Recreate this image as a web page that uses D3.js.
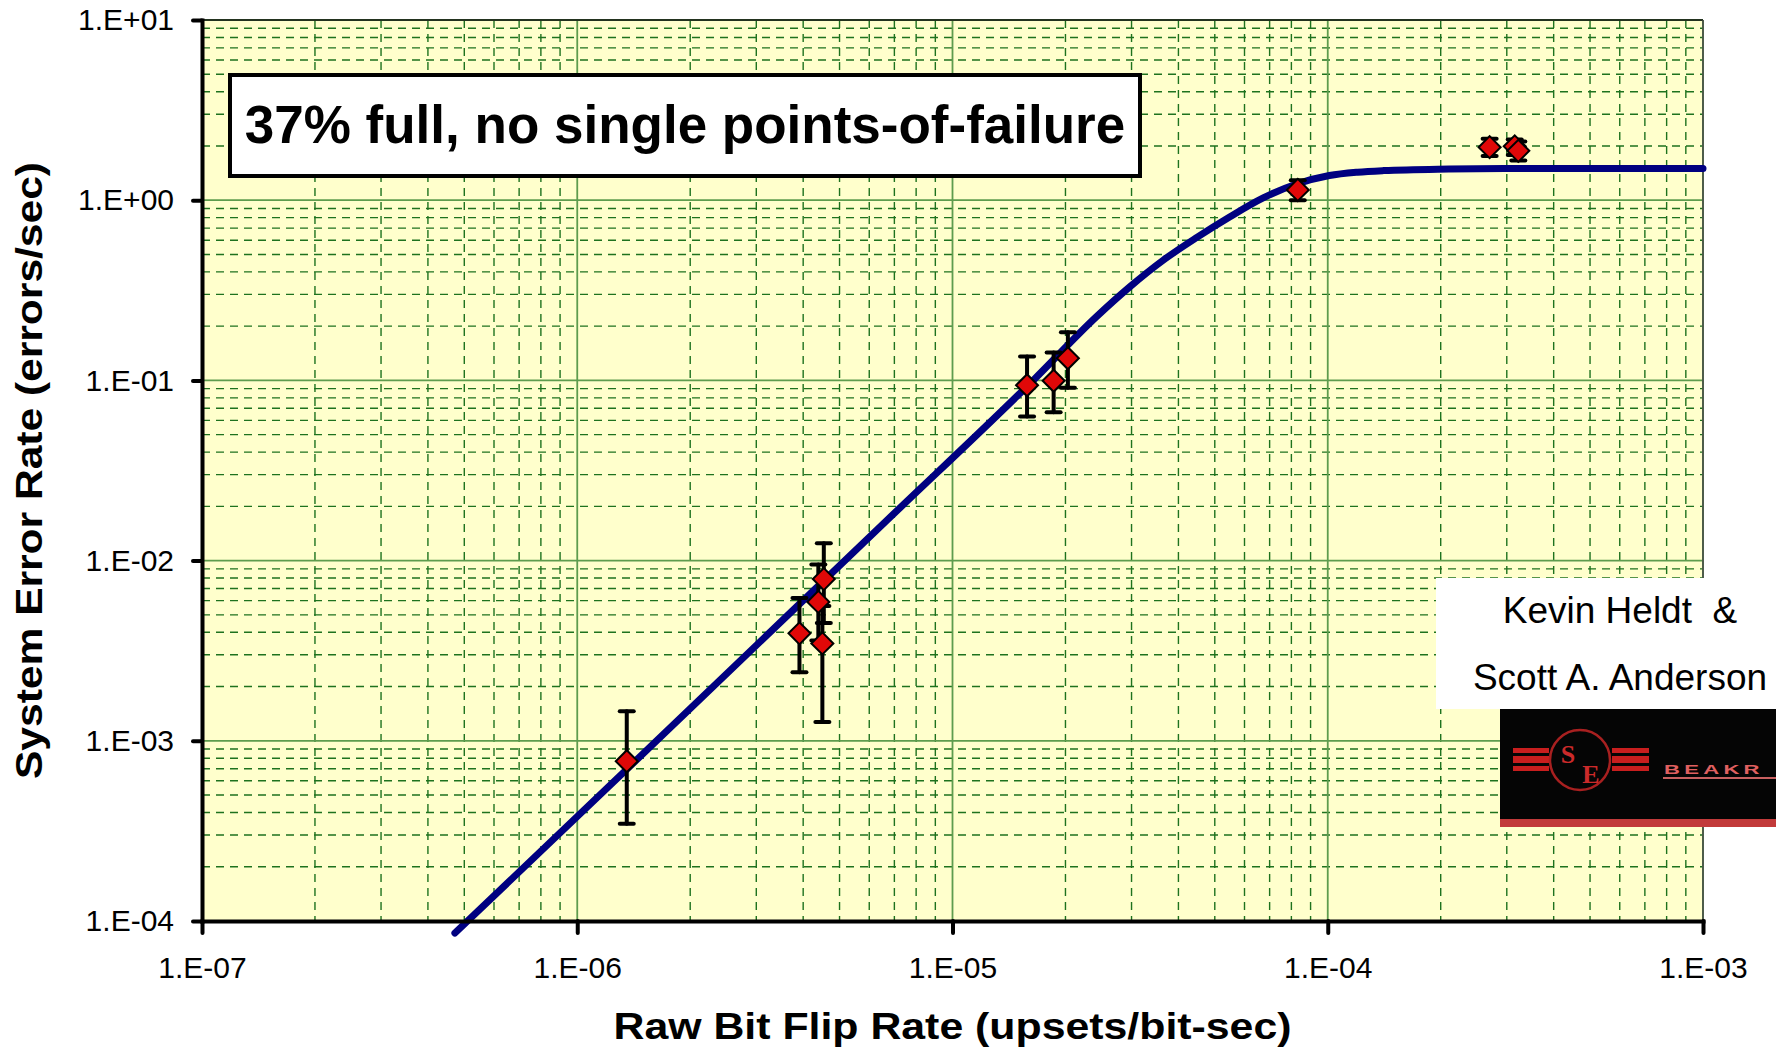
<!DOCTYPE html>
<html>
<head>
<meta charset="utf-8">
<script src="https://cdn.jsdelivr.net/npm/d3@7"></script>
<style>
  body { margin: 0; background: #fff; }
  svg text { font-family: "Liberation Sans", Arial, sans-serif; }
</style>
</head>
<body>
<svg id="chart" width="1776" height="1055"></svg>
<script>
// model curve
var curveX = [4.72e-7, 1.36e-6, 6.7e-6, 1.64e-5, 2.42e-5, 2.97e-5, 3.65e-5, 4.48e-5, 5.49e-5, 6.73e-5, 8.26e-5, 1.01e-4, 1.2e-4, 1.41e-4, 2.1e-4, 3.0e-4, 1e-3];
var curveY = [8.57e-5, 7.0e-4, 0.0168, 0.1, 0.226, 0.331, 0.466, 0.622, 0.81, 1.03, 1.23, 1.37, 1.43, 1.46, 1.49, 1.50, 1.50];

// measured points and their error bars
var pointX  = [1.355e-6, 3.91e-6, 4.39e-6, 4.54e-6, 4.5e-6, 1.58e-5, 1.86e-5, 2.03e-5, 8.32e-5, 2.70e-4, 3.15e-4, 3.22e-4];
var pointY  = [7.7e-4, 3.95e-3, 5.9e-3, 7.9e-3, 3.47e-3, 9.4e-2, 0.0996, 0.1327, 1.14, 1.97, 1.99, 1.88];
var pointLo = [3.47e-4, 2.4e-3, 3.6e-3, 4.5e-3, 1.27e-3, 6.3e-2, 6.65e-2, 9.1e-2, 1.0, 1.76, 1.78, 1.66];
var pointHi = [1.46e-3, 6.2e-3, 9.5e-3, 1.25e-2, 5.6e-3, 0.1355, 0.143, 0.185, 1.29, 2.19, 2.17, 2.12];

var xTicks = [1e-7, 1e-6, 1e-5, 1e-4, 1e-3];
var xTickLabels = ["1.E-07", "1.E-06", "1.E-05", "1.E-04", "1.E-03"];
var yTicks = [1e-4, 1e-3, 1e-2, 1e-1, 1, 10];
var yTickLabels = ["1.E-04", "1.E-03", "1.E-02", "1.E-01", "1.E+00", "1.E+01"];

var titleText = "37% full, no single points-of-failure";
var xTitle = "Raw Bit Flip Rate (upsets/bit-sec)";
var yTitle = "System Error Rate (errors/sec)";
var authors = ["Kevin Heldt  &", "Scott A. Anderson"];

var svg = d3.select("#chart");
var plotL = 202, plotR = 1703, plotT = 20, plotB = 921;

var x = d3.scaleLog().domain([1e-7, 1e-3]).range([plotL, plotR]);
var y = d3.scaleLog().domain([1e-4, 10]).range([plotB, plotT]);

// plot background
svg.append("rect")
  .attr("x", plotL).attr("y", plotT)
  .attr("width", plotR - plotL).attr("height", plotB - plotT)
  .attr("fill", "#FFFFCC");

function isMajor(d) {
  var l = Math.log10(d);
  return Math.abs(l - Math.round(l)) < 1e-6;
}

// minor grid (dashed)
var grid = svg.append("g");
grid.selectAll(".vmin")
  .data(x.ticks().filter(function(d) { return !isMajor(d); }))
  .enter().append("line")
  .attr("x1", function(d) { return x(d); }).attr("x2", function(d) { return x(d); })
  .attr("y1", plotT).attr("y2", plotB)
  .attr("stroke", "#1E721E").attr("stroke-width", 1.4)
  .attr("stroke-dasharray", "8,6");
grid.selectAll(".hmin")
  .data(y.ticks().filter(function(d) { return !isMajor(d); }))
  .enter().append("line")
  .attr("x1", plotL).attr("x2", plotR)
  .attr("y1", function(d) { return y(d); }).attr("y2", function(d) { return y(d); })
  .attr("stroke", "#1E721E").attr("stroke-width", 1.4)
  .attr("stroke-dasharray", "8,6");

// major grid (solid)
grid.selectAll(".vmaj")
  .data(xTicks)
  .enter().append("line")
  .attr("x1", function(d) { return x(d); }).attr("x2", function(d) { return x(d); })
  .attr("y1", plotT).attr("y2", plotB)
  .attr("stroke", "#5E9C4E").attr("stroke-width", 1.8);
grid.selectAll(".hmaj")
  .data(yTicks)
  .enter().append("line")
  .attr("x1", plotL).attr("x2", plotR)
  .attr("y1", function(d) { return y(d); }).attr("y2", function(d) { return y(d); })
  .attr("stroke", "#5E9C4E").attr("stroke-width", 1.8);

// top and right border
svg.append("line").attr("x1", plotL).attr("x2", plotR).attr("y1", plotT).attr("y2", plotT)
  .attr("stroke", "#111").attr("stroke-width", 1.3);
svg.append("line").attr("x1", plotR).attr("x2", plotR).attr("y1", plotT).attr("y2", plotB)
  .attr("stroke", "#444").attr("stroke-width", 1.5);

// title box
svg.append("rect")
  .attr("x", 230).attr("y", 75).attr("width", 910).attr("height", 101)
  .attr("fill", "#fff").attr("stroke", "#000").attr("stroke-width", 4);
svg.append("text")
  .attr("x", 685).attr("y", 143)
  .attr("text-anchor", "middle")
  .attr("font-size", 53).attr("font-weight", "bold")
  .text(titleText);

// fitted curve
var pts = curveX.map(function(d, i) { return [d, curveY[i]]; });
var line = d3.line()
  .x(function(d) { return x(d[0]); })
  .y(function(d) { return y(d[1]); })
  .curve(d3.curveMonotoneX);
svg.append("path")
  .datum(pts)
  .attr("d", line)
  .attr("fill", "none")
  .attr("stroke", "#000080").attr("stroke-width", 7)
  .attr("stroke-linecap", "round").attr("stroke-linejoin", "round");

// error bars
var data = pointX.map(function(d, i) {
  return { x: d, y: pointY[i], lo: pointLo[i], hi: pointHi[i] };
});
var eb = svg.append("g").selectAll("g").data(data).enter().append("g")
  .attr("stroke", "#000").attr("stroke-width", 4).attr("stroke-linecap", "round");
eb.append("line")
  .attr("x1", function(d) { return x(d.x); }).attr("x2", function(d) { return x(d.x); })
  .attr("y1", function(d) { return y(d.lo); }).attr("y2", function(d) { return y(d.hi); });
eb.append("line")
  .attr("x1", function(d) { return x(d.x) - 7; }).attr("x2", function(d) { return x(d.x) + 7; })
  .attr("y1", function(d) { return y(d.lo); }).attr("y2", function(d) { return y(d.lo); });
eb.append("line")
  .attr("x1", function(d) { return x(d.x) - 7; }).attr("x2", function(d) { return x(d.x) + 7; })
  .attr("y1", function(d) { return y(d.hi); }).attr("y2", function(d) { return y(d.hi); });

// diamond markers
var diamond = d3.symbol().type(d3.symbolSquare).size(242);
svg.append("g").selectAll("path").data(data).enter().append("path")
  .attr("d", diamond)
  .attr("transform", function(d) { return "translate(" + x(d.x) + "," + y(d.y) + ") rotate(45)"; })
  .attr("fill", "#E00808").attr("stroke", "#000").attr("stroke-width", 2);

// axes
var xAxis = d3.axisBottom(x).tickValues(xTicks)
  .tickFormat(function(d, i) { return xTickLabels[i]; })
  .tickSize(12).tickSizeOuter(0).tickPadding(24);
var gx = svg.append("g").attr("transform", "translate(0," + plotB + ")").call(xAxis);
var yAxis = d3.axisLeft(y).tickValues(yTicks)
  .tickFormat(function(d, i) { return yTickLabels[i]; })
  .tickSize(9).tickSizeOuter(0).tickPadding(19);
var gy = svg.append("g").attr("transform", "translate(" + plotL + ",0)").call(yAxis);

[gx, gy].forEach(function(g) {
  g.select(".domain").attr("stroke", "#000").attr("stroke-width", 4).attr("stroke-linecap", "square");
  g.selectAll(".tick line").attr("stroke", "#000").attr("stroke-width", 4).attr("stroke-linecap", "round");
  g.selectAll(".tick text")
    .attr("font-size", 30).attr("fill", "#000")
    .style("font-family", "'Liberation Sans', Arial, sans-serif");
});

// axis titles (the original is stretched along its reading direction)
svg.append("text")
  .attr("x", (plotL + plotR) / 2).attr("y", 1039)
  .attr("text-anchor", "middle")
  .attr("font-size", 36).attr("font-weight", "bold")
  .attr("textLength", 678).attr("lengthAdjust", "spacingAndGlyphs")
  .text(xTitle);
svg.append("text")
  .attr("transform", "translate(42," + (plotT + plotB) / 2 + ") rotate(-90)")
  .attr("text-anchor", "middle")
  .attr("font-size", 36).attr("font-weight", "bold")
  .attr("textLength", 617).attr("lengthAdjust", "spacingAndGlyphs")
  .text(yTitle);

// author box
svg.append("rect")
  .attr("x", 1436).attr("y", 578).attr("width", 340).attr("height", 131)
  .attr("fill", "#fff");
svg.append("g").selectAll("text").data(authors).enter().append("text")
  .attr("x", 1620).attr("y", function(d, i) { return 623 + i * 67; })
  .attr("text-anchor", "middle")
  .attr("font-size", 37)
  .style("white-space", "pre")
  .text(function(d) { return d; });

// SEAKR logo
var logo = svg.append("g");
logo.append("rect").attr("x", 1500).attr("y", 709).attr("width", 276).attr("height", 112).attr("fill", "#050505");
logo.append("rect").attr("x", 1500).attr("y", 819).attr("width", 276).attr("height", 8).attr("fill", "#C23A3A");
[[748, 5], [756, 7], [766, 5]].forEach(function(s) {
  logo.append("rect").attr("x", 1513).attr("y", s[0]).attr("width", 36).attr("height", s[1]).attr("fill", "#C81E1E");
  logo.append("rect").attr("x", 1612).attr("y", s[0]).attr("width", 37).attr("height", s[1]).attr("fill", "#C81E1E");
});
logo.append("circle").attr("cx", 1580).attr("cy", 760).attr("r", 30)
  .attr("fill", "#050505").attr("stroke", "#A82020").attr("stroke-width", 2.5);
logo.append("text").attr("x", 1568).attr("y", 763).attr("text-anchor", "middle")
  .attr("font-size", 26).attr("font-weight", "bold").attr("fill", "#CC2A2A")
  .style("font-family", "'Liberation Serif', serif").text("S");
logo.append("text").attr("x", 1591).attr("y", 783).attr("text-anchor", "middle")
  .attr("font-size", 26).attr("font-weight", "bold").attr("fill", "#CC2A2A")
  .style("font-family", "'Liberation Serif', serif").text("E");
logo.append("text").attr("transform", "translate(1664,774) scale(1.7,1)")
  .attr("font-size", 13).attr("font-weight", "bold").attr("fill", "#E06060")
  .attr("letter-spacing", 2.5).text("BEAKR");
logo.append("line").attr("x1", 1663).attr("x2", 1776).attr("y1", 778).attr("y2", 778)
  .attr("stroke", "#C86060").attr("stroke-width", 2);
</script>
</body>
</html>
